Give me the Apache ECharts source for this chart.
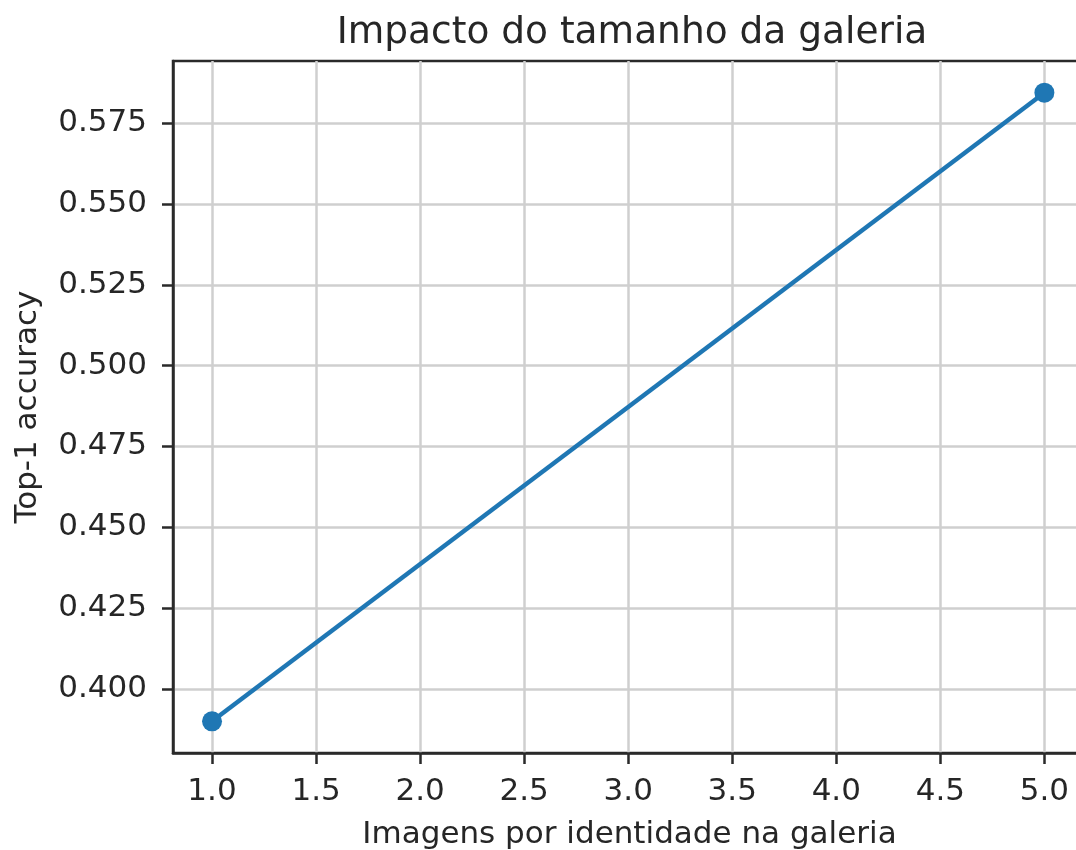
<!DOCTYPE html>
<html>
<head>
<meta charset="utf-8">
<script src="https://cdn.jsdelivr.net/npm/echarts@6/dist/echarts.min.js"></script>
<style>
html,body{margin:0;padding:0;background:#fff;}
#chart{width:1076px;height:850px;}
</style>
</head>
<body>
<div id="chart"></div>
<script>
const titleText = 'Impacto do tamanho da galeria';
const xName = 'Imagens por identidade na galeria';
const yName = 'Top-1 accuracy';
const imagesPerIdentity = [1, 5];
const top1Accuracy = [0.390, 0.5844];
const xTicks = [1.0, 1.5, 2.0, 2.5, 3.0, 3.5, 4.0, 4.5, 5.0];
const yTicks = [0.400, 0.425, 0.450, 0.475, 0.500, 0.525, 0.550, 0.575];

const font = 'DejaVu Sans';
const textColor = '#262626';
const chart = echarts.init(document.getElementById('chart'), null, {renderer: 'canvas'});

chart.setOption({
  animation: false,
  backgroundColor: '#ffffff',
  title: {
    text: titleText,
    left: 627,
    textAlign: 'center',
    top: 9,
    textStyle: {fontFamily: font, fontSize: 37.5, fontWeight: 'normal', color: textColor}
  },
  grid: {
    left: 173, top: 61, right: -10, bottom: 97,
    show: true, borderColor: '#2a2a2a', borderWidth: 2.5, backgroundColor: 'transparent',
    containLabel: false, outerBoundsMode: 'none'
  },
  xAxis: {
    type: 'value',
    min: 0.8125, max: 5.2,
    name: xName,
    nameLocation: 'middle',
    nameGap: 66,
    nameTextStyle: {fontFamily: font, fontSize: 31, color: textColor},
    axisLine: {show: true, onZero: false, lineStyle: {color: '#2a2a2a', width: 2.5}},
    axisTick: {show: true, length: 11, customValues: xTicks, lineStyle: {color: '#2a2a2a', width: 2.5}},
    axisLabel: {
      show: true, margin: 23, customValues: xTicks,
      fontFamily: font, fontSize: 31, color: textColor,
      formatter: v => v.toFixed(1)
    },
    splitLine: {show: true, lineStyle: {color: '#cfcfcf', width: 2.5}}
  },
  yAxis: {
    type: 'value',
    min: 0.3802, max: 0.5942,
    name: yName,
    nameLocation: 'middle',
    nameGap: 130,
    nameTextStyle: {fontFamily: font, fontSize: 31, color: textColor},
    axisLine: {show: true, onZero: false, lineStyle: {color: '#2a2a2a', width: 2.5}},
    axisTick: {show: true, length: 11, customValues: yTicks, lineStyle: {color: '#2a2a2a', width: 2.5}},
    axisLabel: {
      show: true, margin: 26, customValues: yTicks,
      fontFamily: font, fontSize: 31, color: textColor,
      formatter: v => v.toFixed(3)
    },
    splitLine: {show: true, lineStyle: {color: '#cfcfcf', width: 2.5}}
  },
  series: [{
    type: 'line',
    data: imagesPerIdentity.map((x, i) => [x, top1Accuracy[i]]),
    symbol: 'circle',
    symbolSize: 20,
    clip: false,
    lineStyle: {color: '#1f77b4', width: 4.5},
    itemStyle: {color: '#1f77b4'}
  }]
});
</script>
</body>
</html>
